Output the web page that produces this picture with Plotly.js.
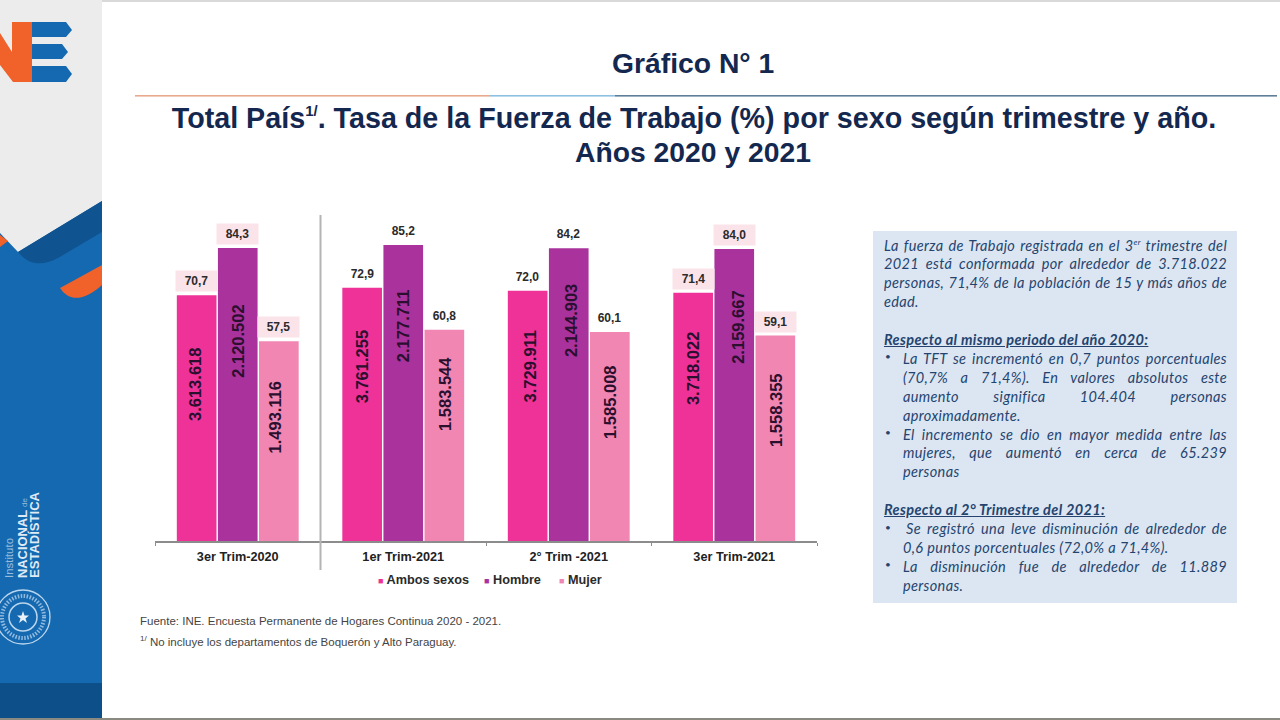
<!DOCTYPE html>
<html><head><meta charset="utf-8">
<script src="https://cdn.plot.ly/plotly-3.0.1.min.js"></script>
<style>
html,body{margin:0;padding:0;background:#fff;width:1280px;height:720px;overflow:hidden}
#deco{position:absolute;left:0;top:0}
#chart{position:absolute;left:0;top:0;width:1280px;height:720px}
#panel{position:absolute;left:873px;top:231px;width:364px;height:372px;background:#dce6f2}
.ln{position:absolute;font:italic 14.5px Lato,sans-serif;letter-spacing:.35px;color:#24446f;height:19px;line-height:19px;overflow:hidden}
.j{text-align:justify;text-align-last:justify}
.b{font-weight:700;text-decoration:underline}
sup{font-size:8px;line-height:0}
</style></head><body>
<svg id="deco" width="1280" height="720" viewBox="0 0 1280 720">
<rect x="0" y="0" width="1280" height="2" fill="#d9d9d9"/>
<rect x="0" y="0" width="102" height="718" fill="#ececec"/>
<path d="M0,233 L18,252 L102,201 L102,718 L0,718 Z" fill="#1569b0"/>
<path d="M18,252 L102,201 L102,232 L58,258 C45,265 30,267 18,252 Z" fill="#0f5390"/>
<path d="M0,235 L8,241 L0,247 Z" fill="#f0622a"/>
<path d="M102,265 L60,288 C70,303 85,300 102,285 Z" fill="#f0622a"/>
<rect x="0" y="683" width="102" height="35" fill="#0d4f88"/>
<rect x="0" y="718" width="1280" height="2" fill="#8a8a80"/>
<path d="M12,22 L32,22 L32,82 L13,82 L0,65 L0,33 L12,52 Z" fill="#f0622a"/>
<path d="M32,22 L66,22 L72,30 L66,37 L32,37 Z M32,44 L62,44 L68,52 L62,59 L32,59 Z M32,66 L66,66 L72,74 L66,82 L32,82 Z" fill="#1569b0"/>
<g fill="none" stroke="#bcd6ee"><ellipse cx="23" cy="617" rx="27" ry="27" stroke-width="1.3"/><ellipse cx="23" cy="617" rx="21" ry="21" stroke-width="4" stroke-dasharray="1.5 1.5" opacity=".75"/><ellipse cx="23" cy="617" rx="14" ry="14" stroke-width="1.5"/></g>
<path d="M23,611 L24.5,615.5 L29,615.5 L25.5,618.5 L27,623 L23,620 L19,623 L20.500,618.500 L17,615.500 L21.500,615.500 Z" fill="#e8f0f8"/>
<g transform="translate(0,578) rotate(-90)" font-family="Liberation Sans" fill="#dfeaf5">
<text x="0" y="13" font-size="10" opacity=".65" textLength="40" lengthAdjust="spacingAndGlyphs">Instituto</text>
<text x="0" y="27" font-size="13" font-weight="700" textLength="68" lengthAdjust="spacingAndGlyphs">NACIONAL</text>
<text x="71" y="27" font-size="8" opacity=".6">de</text>
<text x="0" y="39" font-size="13" font-weight="700" textLength="86" lengthAdjust="spacingAndGlyphs">ESTADÍSTICA</text>
</g>
<rect x="135" y="95" width="355" height="1.6" fill="#e8a98e"/>
<rect x="490" y="95" width="125" height="1.6" fill="#8fc0e0"/>
<rect x="615" y="95" width="662" height="1.6" fill="#5f7f99"/>
</svg>
<div id="chart"></div>
<div id="panel"></div>
<script>
// Data
const categories = ['3er Trim-2020', '1er Trim-2021', '2° Trim -2021', '3er Trim-2021'];
const seriesNames = ['Ambos sexos', 'Hombre', 'Mujer'];
const ambosRate = [70.7, 72.9, 72.0, 71.4];
const hombreRate = [84.3, 85.2, 84.2, 84.0];
const mujerRate = [57.5, 60.8, 60.1, 59.1];
const ambosCount = ['3.613.618', '3.761.255', '3.729.911', '3.718.022'];
const hombreCount = ['2.120.502', '2.177.711', '2.144.903', '2.159.667'];
const mujerCount = ['1.493.116', '1.583.544', '1.585.008', '1.558.355'];

const rates = [ambosRate, hombreRate, mujerRate];
const counts = [ambosCount, hombreCount, mujerCount];
const colors = ['#ee3297', '#a9329c', '#f086b1'];
const barStep = 0.248;
// Hand-placed count labels in the source: distance (px) of label centre below the bar top, per series then group
const countDrop = [[89,79.5,75.5,75.5],[93,81,72,78.5],[75.5,64,70,74.5]];
const countNudge = [[-1,0,2.5,0.5],[0,0,3,3],[-4,0,0,0.5]];
const highlighted = [0, 3];

const fmt = v => v.toFixed(1).replace('.', ',');
const traces = seriesNames.map((n, s) => ({
  type: 'bar', name: n, x: categories, y: rates[s],
  marker: {color: colors[s], line: {width: 0}}, hoverinfo: 'x+y+name'
}));
const annotations = [];
rates.forEach((arr, s) => arr.forEach((v, g) => {
  annotations.push({
    x: g + (s - 1) * barStep, y: v, xref: 'x', yref: 'y', showarrow: false, yshift: 14,
    text: fmt(v), width: 39, height: 18, align: 'center', valign: 'middle',
    bgcolor: highlighted.includes(g) ? '#fbe3ea' : 'rgba(0,0,0,0)',
    font: {family: 'Liberation Sans', size: 12, color: '#2b2b2b', weight: 700}
  });
  annotations.push({
    x: g + (s - 1) * barStep, y: v, xref: 'x', yref: 'y', showarrow: false,
    yshift: -countDrop[s][g], xshift: countNudge[s][g], textangle: -90,
    text: counts[s][g],
    font: {family: 'Liberation Sans', size: 16.5, color: '#2a0f2e', weight: 700}
  });
}));
// Page-level text, placed by pixel position on the page
const plotL = 155, plotW = 662, plotB = 541, plotH = 326;
const pageText = (text, px, py, size, extra, anchor) => ({
  text, x: (px - plotL) / plotW, y: (plotB - py) / plotH, xref: 'paper', yref: 'paper',
  xanchor: anchor || 'left', yanchor: 'middle', showarrow: false, align: anchor || 'left',
  font: Object.assign({family: 'Liberation Sans', size, color: '#444'}, extra || {})
});
const navy = {weight: 700, color: '#14284f'};
annotations.push(pageText('Gráfico N° 1', 693, 63, 28.3, navy, 'center'));
annotations.push(pageText('Años 2020 y 2021', 693, 152, 28.3, navy, 'center'));
annotations.push(pageText('Fuente: INE. Encuesta Permanente de Hogares Continua 2020 - 2021.', 138, 620.5, 11.5));
annotations.push(pageText('<sup>1/</sup> No incluye los departamentos de Boquerón y Alto Paraguay.', 138, 641, 11.5));
const legendX = [376, 482, 557];
seriesNames.forEach((n, s) => annotations.push(pageText(
  '<span style="color:' + colors[s] + ';font-size:9px">■</span> ' + n, legendX[s], 580, 12.7,
  {color: '#2b2b2b', weight: 700})));

const layout = {
  width: 1280, height: 720, autosize: false, showlegend: false,
  paper_bgcolor: 'rgba(0,0,0,0)', plot_bgcolor: 'rgba(0,0,0,0)',
  margin: {l: 155, r: 463, t: 215, b: 179, pad: 0},
  barmode: 'group', bargap: 0.255, bargroupgap: 0.035,
  title: {
    text: 'Total País<sup><span style="font-size:15px">1/</span></sup>. Tasa de la Fuerza de Trabajo (%) por sexo según trimestre y año.',
    x: 694/1280, xref: 'container', xanchor: 'center', y: 1 - 118/720, yref: 'container', yanchor: 'middle',
    font: {family: 'Liberation Sans', size: 28.7, weight: 700, color: '#14284f'}
  },
  xaxis: {
    type: 'category', showgrid: false, zeroline: false, showline: true, linecolor: '#8c8c8c', linewidth: 1.5,
    ticks: 'outside', ticklen: 3, tickcolor: '#8c8c8c', tickson: 'boundaries', tickangle: 0, ticklabelstandoff: 3,
    tickfont: {family: 'Liberation Sans', size: 12.7, color: '#222', weight: 700}, range: [-0.5, 3.5]
  },
  yaxis: {range: [0, 93.8], visible: false, fixedrange: true},
  annotations,
  shapes: [{type: 'line', xref: 'x', yref: 'paper', x0: 0.5, x1: 0.5, y0: -0.089, y1: 1,
            line: {color: '#b4b4b4', width: 2}}]
};
Plotly.newPlot('chart', traces, layout, {displayModeBar: false, staticPlot: true});

// Side panel commentary, one row per line of the source (row index gives the vertical slot)
const panelLines = [
 [0, 'j', 0, 'La fuerza de Trabajo registrada en el 3<sup>er</sup> trimestre del'],
 [1, 'j', 0, '2021 está conformada por alrededor de 3.718.022'],
 [2, 'j', 0, 'personas, 71,4% de la población de 15 y más años de'],
 [3, '', 0, 'edad.'],
 [5, 'b', 0, 'Respecto al mismo periodo del año 2020:'],
 [6, 'jd', 1, 'La TFT se incrementó en  0,7 puntos porcentuales'],
 [7, 'j', 1, '(70,7% a 71,4%). En valores absolutos este'],
 [8, 'j', 1, 'aumento significa 104.404 personas'],
 [9, '', 1, 'aproximadamente.'],
 [10, 'jd', 1, 'El incremento se dio en mayor medida entre las'],
 [11, 'j', 1, 'mujeres, que aumentó en cerca de 65.239'],
 [12, '', 1, 'personas'],
 [14, 'b', 0, 'Respecto al 2° Trimestre del 2021:'],
 [15, 'jd', 2, 'Se registró una leve disminución de alrededor de'],
 [16, '', 1, '0,6 puntos porcentuales (72,0% a 71,4%).'],
 [17, 'jd', 1, 'La disminución fue de alrededor de 11.889'],
 [18, '', 1, 'personas.']
];
const panel = document.getElementById('panel');
panelLines.forEach(l => {
  const i = l[0], kind = l[1];
  const d = document.createElement('div');
  const left = l[2] === 0 ? 11 : l[2] === 1 ? 30 : 33;
  d.className = 'ln' + (kind[0] === 'j' ? ' j' : '') + (kind === 'b' ? ' b' : '');
  d.style.left = left + 'px'; d.style.width = (354 - left) + 'px';
  d.style.top = (4.5 + i * 18.9) + 'px';
  d.innerHTML = l[3];
  panel.appendChild(d);
  if (kind === 'jd') {
    const b = document.createElement('div');
    b.className = 'ln'; b.style.left = '12px'; b.style.width = '10px'; b.style.fontSize = '10px';
    b.style.fontStyle = 'normal'; b.style.top = (3 + i * 18.9) + 'px'; b.textContent = '•';
    panel.appendChild(b);
  }
});
</script>
</body></html>
